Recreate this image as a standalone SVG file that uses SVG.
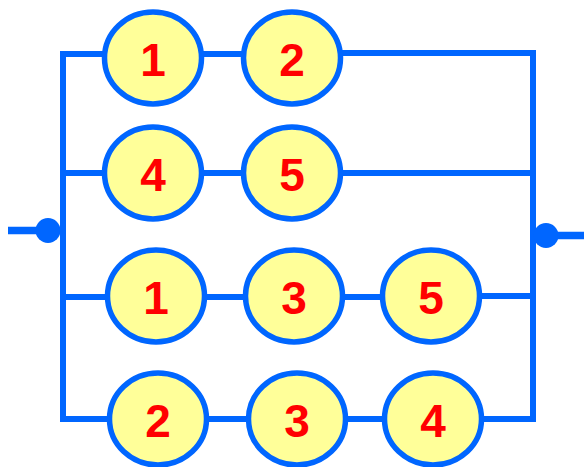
<svg xmlns="http://www.w3.org/2000/svg" width="584" height="467" viewBox="0 0 584 467">
<style>
.w{stroke:#0066FF;stroke-width:6;fill:none}
.n ellipse{fill:#FFFF99;stroke:#0066FF;stroke-width:5.5}
.n text{font-family:"Liberation Sans",Arial,sans-serif;font-weight:bold;font-size:46px;fill:#FF0000;text-anchor:middle}
.d{fill:#0066FF}
</style>
<rect width="584" height="467" fill="#FFFFFF"/>
<g id="connectors">
<path class="w" d="M63,57 V422"/>
<path class="w" d="M533,51 V422"/>
<path class="w" d="M60,54 H105 M203,54 H243 M341,53 H536"/>
<path class="w" d="M63,173 H105 M203,173 H243 M341,173 H533"/>
<path class="w" d="M63,297 H108 M206,297 H246 M343,297 H383 M480,296 H533"/>
<path class="w" d="M63,419 H110 M208,419 H249 M346,419 H385 M482,419 H533"/>
<path class="w" style="stroke-width:7.5" d="M8,230.5 H48"/>
<path class="w" style="stroke-width:7.5" d="M546,235.5 H584"/>
<circle class="d" cx="48" cy="230.5" r="12.5"/>
<circle class="d" cx="546" cy="235.5" r="12.5"/>
</g>
<g id="n1a" class="n"><ellipse cx="153" cy="58" rx="48.5" ry="46"/><text x="153" y="76">1</text></g>
<g id="n2a" class="n"><ellipse cx="292" cy="58" rx="48.5" ry="46"/><text x="292" y="76">2</text></g>
<g id="n4a" class="n"><ellipse cx="153" cy="173" rx="48.5" ry="46"/><text x="153" y="191">4</text></g>
<g id="n5a" class="n"><ellipse cx="292" cy="173" rx="48.5" ry="46"/><text x="292" y="191">5</text></g>
<g id="n1b" class="n"><ellipse cx="156" cy="296" rx="48.5" ry="46"/><text x="156" y="314">1</text></g>
<g id="n3b" class="n"><ellipse cx="294" cy="296" rx="48.5" ry="46"/><text x="294" y="314">3</text></g>
<g id="n5b" class="n"><ellipse cx="431" cy="296" rx="48.5" ry="46"/><text x="431" y="314">5</text></g>
<g id="n2c" class="n"><ellipse cx="158" cy="419" rx="48.5" ry="46"/><text x="158" y="437">2</text></g>
<g id="n3c" class="n"><ellipse cx="297" cy="419" rx="48.5" ry="46"/><text x="297" y="437">3</text></g>
<g id="n4c" class="n"><ellipse cx="433" cy="419" rx="48.5" ry="46"/><text x="433" y="437">4</text></g>
</svg>
